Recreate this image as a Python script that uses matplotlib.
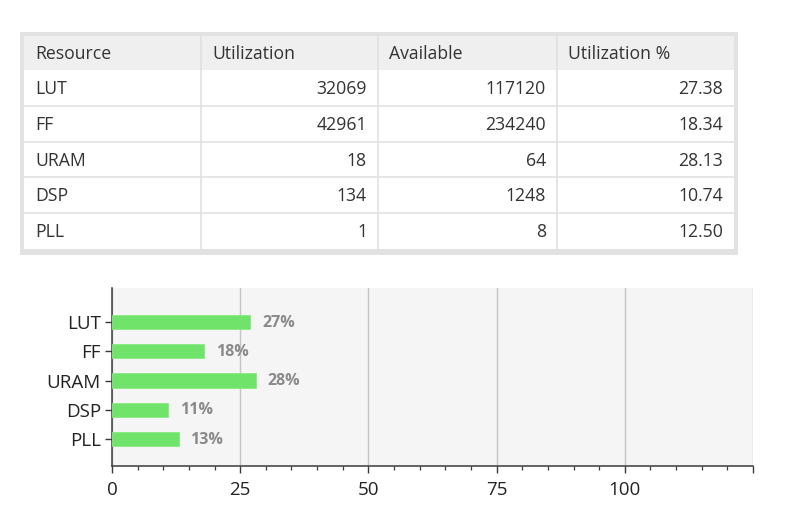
import matplotlib
matplotlib.use("Agg")
import matplotlib.pyplot as plt
from matplotlib.patches import Rectangle
from matplotlib.ticker import MultipleLocator, FuncFormatter

plt.rcParams['font.family'] = ['Open Sans', 'DejaVu Sans']

# ---- data ----
headers = ["Resource", "Utilization", "Available", "Utilization %"]
resources = ["LUT", "FF", "URAM", "DSP", "PLL"]
utilization = [32069, 42961, 18, 134, 1]
available = [117120, 234240, 64, 1248, 8]
util_pct = [27.38, 18.34, 28.13, 10.74, 12.50]
x_ticks = [0, 25, 50, 75, 100, 125]

# the chart shows the rounded percentages
bar_pct = [int(v + 0.5) for v in util_pct]

W, H = 793, 507
fig = plt.figure(figsize=(W / 100, H / 100), dpi=100)
fig.patch.set_facecolor("white")

# ---- table (drawn in a pixel-space background axes) ----
bg = fig.add_axes([0, 0, 1, 1])
bg.set_xlim(0, W)
bg.set_ylim(H, 0)
bg.axis("off")

tx0, tx1, ty0, ty1 = 20, 738, 32, 255
ix0, ix1, iy0, iy1 = 24, 734, 36, 249
col_edges = [ix0, 201, 378, 557, ix1]
header_h = 34
row_h = (iy1 - iy0 - header_h) / len(resources)
text_color = "#333333"
tfs = 12.7

bg.add_patch(Rectangle((tx0, ty0), tx1 - tx0, ty1 - ty0, facecolor="#e2e2e2", edgecolor="none"))
bg.add_patch(Rectangle((ix0, iy0), ix1 - ix0, iy1 - iy0, facecolor="white", edgecolor="none"))
bg.add_patch(Rectangle((ix0, iy0), ix1 - ix0, header_h, facecolor="#efefef", edgecolor="none"))

for i in range(1, len(resources)):
    y = iy0 + header_h + i * row_h
    bg.plot([ix0, ix1], [y, y], color="#e4e4e4", lw=1.3)
for xe in col_edges[1:-1]:
    bg.plot([xe, xe], [iy0, iy1], color="#e0e0e0", lw=1.2)

for j, h in enumerate(headers):
    bg.text(col_edges[j] + 11, iy0 + header_h / 2 + 1, h, ha="left", va="center",
            fontsize=tfs, color=text_color)

columns = [resources, utilization, available, [f"{v:.2f}" for v in util_pct]]
for i in range(len(resources)):
    yc = iy0 + header_h + (i + 0.5) * row_h + 1
    for j, col in enumerate(columns):
        if j == 0:
            bg.text(col_edges[0] + 11, yc, str(col[i]), ha="left", va="center",
                    fontsize=tfs, color=text_color)
        else:
            bg.text(col_edges[j + 1] - 11, yc, str(col[i]), ha="right", va="center",
                    fontsize=tfs, color=text_color)

# ---- bar chart ----
left, right, top, bottom = 112, 753, 288, 466
ax = fig.add_axes([left / W, (H - bottom) / H, (right - left) / W, (bottom - top) / H])
ax.set_facecolor("#f5f5f5")
ypos = list(range(len(resources)))
ax.barh(ypos, bar_pct, height=0.48, color="#70e46a", edgecolor="#86ea80", linewidth=0.6, zorder=3)
for y, v in zip(ypos, bar_pct):
    ax.text(v + 2.3, y + 0.02, f"{v}%", ha="left", va="center",
            fontsize=11.5, fontweight="bold", color="#8a8a8a", zorder=4)

ax.set_xlim(0, 125)
ax.set_ylim(4.92, -1.16)
ax.set_xticks(x_ticks)
ax.xaxis.set_major_formatter(FuncFormatter(lambda v, p: "" if v >= 125 else f"{int(v)}"))
ax.xaxis.set_minor_locator(MultipleLocator(5))
ax.set_yticks(ypos)
ax.set_yticklabels(resources)
ax.grid(axis="x", which="major", color="#c4c4c4", lw=1.0, zorder=1)
ax.set_axisbelow(True)
for s in ["top", "right"]:
    ax.spines[s].set_visible(False)
for s in ["left", "bottom"]:
    ax.spines[s].set_color("#3a3a3a")
    ax.spines[s].set_linewidth(1.1)
ax.tick_params(axis="x", which="major", length=5, width=1, color="#3a3a3a", pad=5.5,
               labelsize=13.5, labelcolor="#222222")
ax.tick_params(axis="x", which="minor", length=3, width=0.9, color="#3a3a3a")
ax.tick_params(axis="y", which="major", length=5, width=1, color="#3a3a3a", pad=3,
               labelsize=13.5, labelcolor="#222222")

fig.savefig("out.png", dpi=100, facecolor="white")
